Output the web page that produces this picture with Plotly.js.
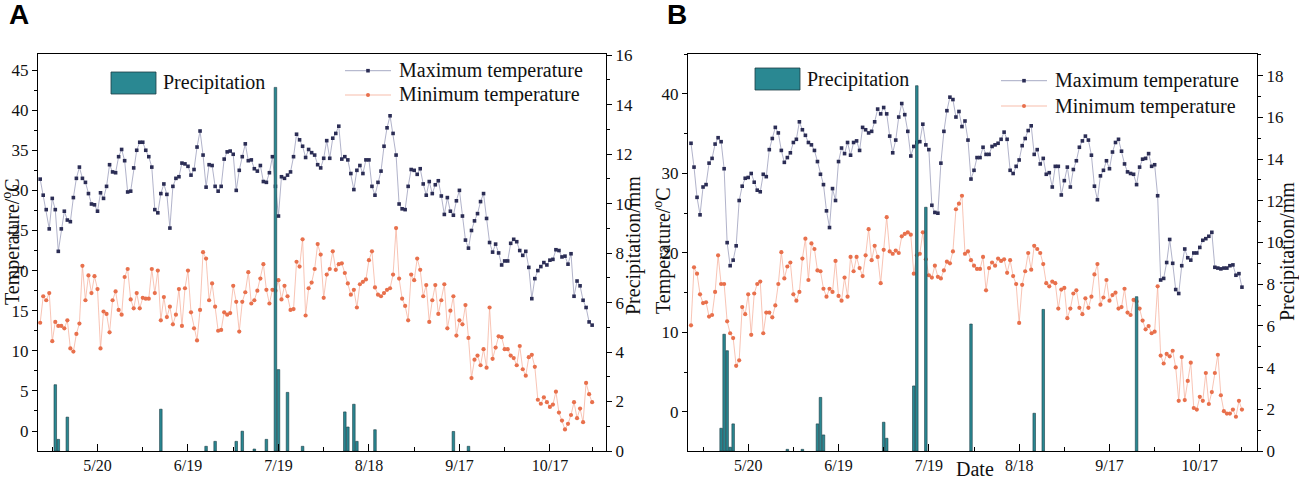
<!DOCTYPE html>
<html><head><meta charset="utf-8">
<script src="https://cdn.plot.ly/plotly-3.0.1.min.js"></script>
<style>html,body{margin:0;padding:0;background:#fff}#chart{width:1299px;height:479px}</style>
</head><body><div id="chart"></div>
<script>
// ---------- data ----------
const firstDate = '5/1';
const tickLabels = ['5/20','6/19','7/19','8/18','9/17','10/17'];
const minorTickDates = ['5/5','6/4','7/4','8/3','9/2','10/2','11/1'];

const maxTempA = [31.4,29.4,27.6,25.2,29.0,27.6,22.4,25.2,27.4,26.3,
26.1,29.1,31.5,32.9,31.5,31.0,29.6,28.3,28.2,27.4,
29.7,29.0,30.5,33.2,32.3,32.2,34.2,35.1,33.7,29.8,
29.9,32.8,35.0,36.0,36.0,35.0,34.2,32.9,27.6,27.2,
29.6,30.8,29.5,25.3,30.5,31.5,31.7,33.4,33.3,33.0,
31.9,32.6,35.4,37.4,34.4,30.4,33.2,33.1,30.5,29.9,
30.5,33.9,34.8,34.9,34.5,30.0,32.5,34.2,35.8,33.7,
33.8,32.7,32.4,33.1,31.1,31.0,32.2,34.2,30.5,26.8,
31.7,31.5,31.9,32.3,34.2,37.0,36.3,35.5,34.1,35.1,
34.7,34.4,33.2,32.8,34.0,36.2,34.0,36.5,37.1,38.0,
33.9,34.2,33.8,32.1,30.1,32.5,33.1,32.1,33.8,33.8,
30.5,29.4,31.0,32.4,35.5,37.8,39.3,37.1,34.4,28.3,
27.7,27.6,30.5,32.6,32.5,32.0,32.7,30.8,29.4,31.1,
29.6,30.7,31.2,29.3,27.0,29.1,27.4,26.9,28.7,30.0,
26.8,23.8,22.8,25.0,26.2,27.1,28.6,29.6,26.5,23.5,
22.3,23.3,22.2,20.7,21.2,21.2,23.4,23.9,23.6,22.5,
21.9,22.4,20.4,16.5,19.0,20.0,20.5,21.0,20.7,21.3,
21.4,22.6,22.5,21.7,21.8,20.8,22.1,16.8,18.7,18.1,
16.3,15.4,13.6,13.2];

const minTempA = [13.5,16.8,16.3,17.2,11.2,13.6,13.1,13.1,12.8,13.8,
10.3,9.9,12.1,13.4,20.6,16.3,19.4,17.2,19.3,17.7,
10.3,14.9,14.6,12.3,16.3,17.4,15.1,14.5,19.2,20.2,
16.4,15.3,17.2,15.3,16.6,16.5,16.5,20.2,17.2,20.0,
13.8,16.7,14.2,15.5,13.3,14.5,17.7,13.1,17.8,20.0,
14.8,12.8,11.3,15.1,22.3,21.5,16.3,18.4,15.5,12.5,
12.6,14.8,14.5,14.7,18.1,16.1,12.4,16.1,17.3,19.8,
15.9,16.3,17.5,19.0,20.8,17.6,15.9,17.6,17.5,18.8,
16.4,18.1,16.8,15.1,15.2,21.1,20.5,23.9,14.4,17.8,
18.5,20.2,23.3,22.0,16.6,19.5,20.2,22.4,20.1,20.8,
20.9,19.7,18.4,17.0,17.6,15.4,18.3,18.6,18.9,21.3,
22.4,17.9,17.0,16.8,17.2,17.6,17.8,19.5,25.3,19.0,
16.5,15.6,13.8,19.5,18.8,21.5,20.1,16.8,18.2,13.6,
16.3,18.2,14.6,16.3,18.3,12.8,15.0,16.8,11.9,13.8,
13.3,15.7,11.6,6.6,8.9,9.4,8.2,10.2,7.9,15.4,
9.0,10.4,11.8,11.7,10.2,10.2,9.4,9.1,8.2,10.6,
7.7,6.9,9.2,9.5,8.0,3.9,3.4,4.2,3.6,3.0,
3.3,4.9,2.3,1.3,0.2,0.9,2.0,3.6,1.6,2.8,
1.1,6.0,4.6,3.6];

const precipDatesA = ['5/6','5/7','5/10','6/10','6/25','6/28','7/5','7/7','7/11','7/15','7/18','7/19','7/22','7/27','8/10','8/11','8/13','8/14','8/20','9/15','9/20'];
const precipA = [2.68,0.47,1.37,1.69,0.19,0.39,0.39,0.80,0.08,0.47,14.7,3.29,2.37,0.19,1.58,0.97,1.89,0.39,0.86,0.79,0.19];

const maxTempB = [33.8,30.8,27.0,24.8,28.3,28.6,31.3,31.9,33.7,34.5,
34.0,30.6,21.3,18.4,19.1,20.9,26.6,28.4,29.4,29.5,
30.0,28.9,27.9,27.7,29.9,29.6,33.0,34.4,35.8,35.1,
32.9,31.4,32.0,32.6,33.9,34.3,36.5,35.5,34.8,33.9,
33.6,32.9,31.5,29.9,28.6,25.3,23.2,28.1,26.6,31.5,
33.2,32.5,33.9,32.3,33.9,34.1,32.9,35.8,35.5,35.1,
35.3,36.5,38.1,37.5,38.3,37.5,34.7,32.6,34.2,37.1,
38.8,37.4,35.3,32.2,33.4,33.9,34.0,36.2,33.6,33.0,
26.0,25.1,25.0,31.3,35.3,37.9,39.6,39.3,37.1,37.8,
35.9,36.6,34.2,29.3,30.4,32.0,32.0,33.3,32.4,32.4,
33.4,33.6,33.8,34.3,35.2,34.3,30.4,30.0,30.9,31.7,
33.5,34.4,35.4,36.0,32.4,33.0,31.2,31.9,29.9,30.1,
28.3,30.9,30.9,27.3,29.1,30.8,28.3,30.5,31.6,33.3,
34.1,34.7,34.2,32.3,28.4,26.7,29.7,30.4,31.6,30.6,
32.7,33.9,34.3,32.8,31.2,30.2,30.0,29.9,28.6,30.8,
31.8,31.9,32.5,30.9,31.1,27.2,16.6,16.8,18.8,21.7,
18.7,15.4,14.9,18.4,20.5,19.4,19.1,20.0,20.0,20.7,
21.6,21.8,22.1,22.6,18.2,18.1,18.0,18.1,18.1,18.4,
18.5,17.2,17.4,15.7];

const minTempB = [10.9,18.2,17.4,14.8,13.7,13.8,12.0,12.2,15.1,19.7,
16.1,16.1,11.4,9.9,9.3,5.8,6.5,13.2,12.3,14.8,
9.7,14.9,16.1,16.4,9.9,12.5,12.5,11.9,13.4,16.1,
20.1,16.8,18.3,18.8,14.8,14.0,15.1,19.3,21.8,16.6,
21.2,20.5,17.8,17.7,15.5,14.5,15.5,15.1,19.0,14.6,
14.0,16.9,14.5,19.5,17.7,19.5,18.1,17.1,19.7,23.0,
19.1,20.9,19.5,16.2,20.4,24.5,20.2,19.9,20.3,20.0,
22.1,22.4,22.6,22.3,17.4,19.7,19.9,22.6,19.2,17.2,
16.9,18.4,17.0,16.8,17.8,18.9,18.7,20.2,25.5,26.2,
27.2,19.9,20.2,19.1,18.4,18.0,18.0,19.5,15.3,18.1,
18.8,18.4,19.3,19.0,19.2,17.5,19.1,17.1,16.1,11.2,
16.0,17.7,20.0,17.9,20.9,20.5,20.0,18.6,16.2,15.8,
16.4,16.2,13.0,15.4,15.6,11.8,13.0,14.9,15.3,13.1,
12.3,14.3,13.1,14.5,17.3,18.6,13.5,14.4,16.6,14.0,
14.7,15.0,13.0,13.2,15.5,12.5,12.2,14.1,13.9,13.0,
11.5,10.4,10.8,9.9,10.1,15.8,7.1,6.1,7.3,7.0,
7.7,5.6,1.4,6.9,1.5,3.9,6.2,0.5,0.3,1.9,
1.4,4.9,1.0,2.5,4.9,7.2,2.1,0.1,-0.2,-0.2,
0.3,-0.6,1.4,0.3];

const precipDatesB = ['5/11','5/12','5/13','5/14','5/15','6/2','6/7','6/12','6/13','6/14','7/4','7/5','7/14','7/15','7/18','8/2','8/23','8/26','9/26'];
const precipB = [1.09,5.60,4.81,0.18,1.30,0.08,0.08,1.30,2.57,0.77,1.38,0.61,3.12,17.52,11.69,6.09,1.81,6.79,7.40];

// ---------- helpers ----------
const monthOffset = {5:0,6:31,7:61,8:92,9:123,10:153,11:183};
function dayIndex(s){const p=s.split('/').map(Number);return monthOffset[p[0]]+p[1]-1;}
const day0 = dayIndex(firstDate);
const W=1299,H=479;
const px=x=>x/W, py=y=>1-y/H;
const serif='Liberation Serif, Times New Roman, serif';
const MAXC='#2b2d55', MAXL='#9da0bd', MINC='#e8704c', MINL='#f6b5a2', BARC='#2a8892', BARL='#1c3c44';

function xAxis(domain, range, anchor){
  return {domain, range, anchor, showline:true, linecolor:'#000', linewidth:1, mirror:true,
    tickmode:'array', tickvals:tickLabels.map(dayIndex), ticktext:tickLabels,
    ticks:'inside', ticklen:7, tickcolor:'#000', tickwidth:1,
    minor:{tickmode:'array', tickvals:minorTickDates.map(dayIndex), ticks:'inside', ticklen:4, tickcolor:'#000'},
    showgrid:false, zeroline:false, tickfont:{family:serif,size:16,color:'#111'}, fixedrange:true};
}
function yAxis(domain, range, anchor, dtick, mdtick, side, overlaying){
  const a = {domain, range, anchor, side, showline:true, linecolor:'#000', linewidth:1,
    tickmode:'linear', tick0:0, dtick, ticks:'outside', ticklen:5, tickcolor:'#000', tickwidth:1,
    minor:{tick0:0, dtick:mdtick, ticks:'outside', ticklen:3, tickcolor:'#000'},
    showgrid:false, zeroline:false, tickfont:{family:serif,size:17,color:'#111'}, fixedrange:true};
  if(overlaying){a.overlaying=overlaying; delete a.domain;}
  return a;
}

const traces=[];
function panel(maxT,minT,pDates,pVals,xa,ya,ya2){
  const days = maxT.map((_,i)=>day0+i);
  traces.push({type:'scatter',mode:'lines+markers',x:days,y:maxT,xaxis:xa,yaxis:ya,
    line:{color:MAXL,width:0.8},marker:{symbol:'square',size:3.6,color:MAXC},hoverinfo:'skip'});
  traces.push({type:'scatter',mode:'lines+markers',x:minT.map((_,i)=>day0+i),y:minT,xaxis:xa,yaxis:ya,
    line:{color:MINL,width:0.8},marker:{symbol:'circle',size:4.2,color:MINC},hoverinfo:'skip'});
  traces.push({type:'bar',x:pDates.map(dayIndex),y:pVals,xaxis:xa,yaxis:ya2,width:0.85,
    marker:{color:BARC,line:{color:BARL,width:0.6}},hoverinfo:'skip'});
}
panel(maxTempA,minTempA,precipDatesA,precipA,'x','y','y2');
panel(maxTempB,minTempB,precipDatesB,precipB,'x2','y3','y4');

const shapes=[], ann=[];
function txt(t,x,y,opt){ann.push(Object.assign({text:t,x:px(x),y:py(y),xref:'paper',yref:'paper',showarrow:false,
  xanchor:'left',yanchor:'middle',font:{family:serif,size:20,color:'#111'}},opt||{}));}
function legend(bx,by,tx,ty,lx,ly1,ly2,ltx){
  shapes.push({type:'rect',xref:'paper',yref:'paper',x0:px(bx),x1:px(bx+45),y0:py(by),y1:py(by+22),fillcolor:BARC,line:{color:BARL,width:0.8}});
  txt('Precipitation',tx,ty);
  shapes.push({type:'line',xref:'paper',yref:'paper',x0:px(lx),x1:px(lx+46),y0:py(ly1),y1:py(ly1),line:{color:MAXL,width:0.9}});
  shapes.push({type:'rect',xref:'paper',yref:'paper',x0:px(lx+21.2),x1:px(lx+24.8),y0:py(ly1-1.8),y1:py(ly1+1.8),fillcolor:MAXC,line:{width:0}});
  shapes.push({type:'line',xref:'paper',yref:'paper',x0:px(lx),x1:px(lx+46),y0:py(ly2),y1:py(ly2),line:{color:MINL,width:0.9}});
  shapes.push({type:'circle',xref:'paper',yref:'paper',x0:px(lx+21),x1:px(lx+25),y0:py(ly2-2),y1:py(ly2+2),fillcolor:MINC,line:{width:0}});
  txt('Maximum temperature',ltx,ly1);
  txt('Minimum temperature',ltx,ly2);
}
legend(111,72,161,83,345,70.7,95,396.5);
legend(755,68,805,79.3,1001,80.7,106,1052.5);

// panel letters and axis titles
const sans='Liberation Sans, Arial, sans-serif';
txt('<b>A</b>',19,15,{xanchor:'center',font:{family:sans,size:28,color:'#000'}});
txt('<b>B</b>',677,15,{xanchor:'center',font:{family:sans,size:28,color:'#000'}});
txt('Temperature/<sup>o</sup>C',12,242,{xanchor:'center',textangle:-90});
txt('Precipitation/mm',633,246,{xanchor:'center',textangle:-90});
txt('Temperature/<sup>o</sup>C',662,251,{xanchor:'center',textangle:-90});
txt('Precipitation/mm',1287,252,{xanchor:'center',textangle:-90});
txt('Date',975,469,{xanchor:'center'});

const layout={width:W,height:H,margin:{l:0,r:0,t:0,b:0,pad:0},paper_bgcolor:'#fff',plot_bgcolor:'#fff',
  font:{family:serif,size:16,color:'#111'},
  showlegend:false,barmode:'overlay',hovermode:false,
  xaxis:xAxis([px(38),px(606)],[-0.73,187.6],'y'),
  yaxis:yAxis([py(451),py(54)],[-2.49,47.0],'x',5,2.5,'left'),
  yaxis2:yAxis(null,[0,16.05],'x',2,1,'right','y'),
  xaxis2:xAxis([px(688),px(1257)],[-1.0,188.0],'y3'),
  yaxis3:yAxis([py(451),py(54)],[-4.91,45.03],'x2',10,5,'left'),
  yaxis4:yAxis(null,[0,19.04],'x2',2,1,'right','y3'),
  shapes:shapes, annotations:ann};
Plotly.newPlot('chart',traces,layout,{staticPlot:true,displayModeBar:false});
</script></body></html>
